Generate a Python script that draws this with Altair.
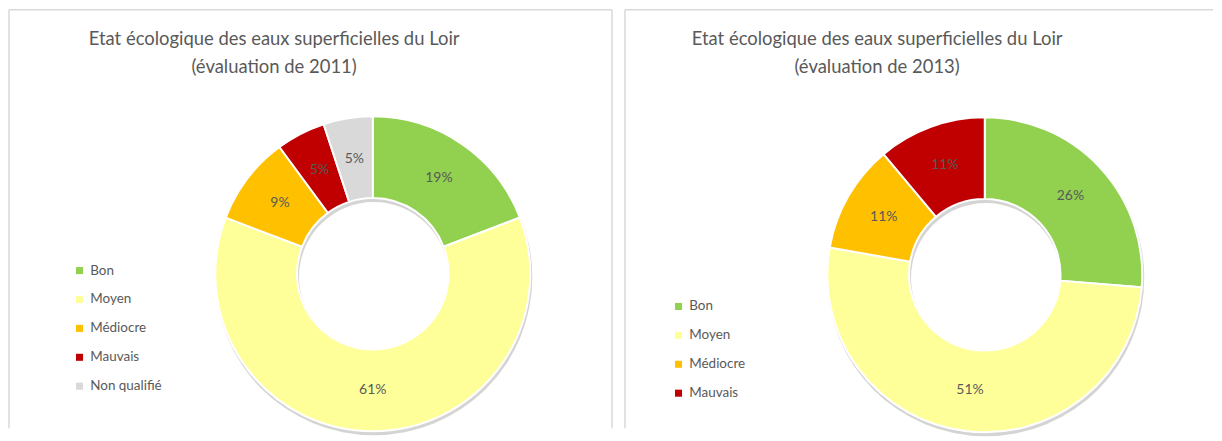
import altair as alt
import pandas as pd

FONT = "Lato"
TXT = "#595959"

categories_2011 = ["Bon", "Moyen", "Médiocre", "Mauvais", "Non qualifié"]
values_2011 = [19, 61, 9, 5, 5]
categories_2013 = ["Bon", "Moyen", "Médiocre", "Mauvais"]
values_2013 = [26, 51, 11, 11]
palette = {"Bon": "#92D050", "Moyen": "#FFFF99", "Médiocre": "#FFC000",
           "Mauvais": "#C00000", "Non qualifié": "#D9D9D9"}
title_2011 = ["Etat écologique des eaux superficielles du Loir", "(évaluation de 2011)"]
title_2013 = ["Etat écologique des eaux superficielles du Loir", "(évaluation de 2013)"]

H = 420
R_OUT = 158
R_IN = 76


def panel(cats, vals, title_lines, W, cx, cy, tx, legx, legy, right_border):
    df = pd.DataFrame({
        "cat": cats,
        "val": vals,
        "ord": list(range(len(cats))),
        "label": [f"{v}%" for v in vals],
    })
    one = pd.DataFrame({"a": [0]})
    color = alt.Color(
        "cat:N",
        scale=alt.Scale(domain=cats, range=[palette[c] for c in cats]),
        legend=alt.Legend(
            title=None, orient="none", legendX=legx, legendY=legy,
            symbolType="square", symbolSize=50, symbolStrokeWidth=0,
            labelFontSize=13.5, labelColor=TXT, labelFont=FONT,
            rowPadding=14, labelOffset=4, padding=0,
        ),
    )
    shadow = alt.Chart(one).mark_arc(
        theta=0, theta2=6.2832, radius=R_OUT + 1, radius2=R_IN - 1,
        color="#b8b8b8", opacity=0.6,
    ).encode(x=alt.value(cx + 1), y=alt.value(cy + 3))
    slices = alt.Chart(df).mark_arc(
        radius=R_OUT, radius2=R_IN, stroke="white", strokeWidth=2,
    ).encode(
        theta=alt.Theta("val:Q", stack=True),
        color=color,
        order=alt.Order("ord:Q"),
        x=alt.value(cx), y=alt.value(cy),
    )
    labels = alt.Chart(df).mark_text(
        radius=(R_OUT + R_IN) / 2, fontSize=14, color=TXT, font=FONT,
    ).encode(
        theta=alt.Theta("val:Q", stack=True),
        detail="cat:N",
        order=alt.Order("ord:Q"),
        text="label:N",
        x=alt.value(cx), y=alt.value(cy),
    )
    t1 = alt.Chart(one).mark_text(
        text=title_lines[0], fontSize=18.5, color=TXT, font=FONT, align="center", baseline="middle",
    ).encode(x=alt.value(tx), y=alt.value(29))
    t2 = alt.Chart(one).mark_text(
        text=title_lines[1], fontSize=18.5, color=TXT, font=FONT, align="center", baseline="middle",
    ).encode(x=alt.value(tx), y=alt.value(58))
    border_col = "#d9d9d9"
    left = alt.Chart(one).mark_rule(color=border_col, strokeWidth=1.5).encode(
        x=alt.value(0), y=alt.value(0), y2=alt.value(H))
    top = alt.Chart(one).mark_rule(color=border_col, strokeWidth=1.5).encode(
        x=alt.value(0), x2=alt.value(W), y=alt.value(0))
    layers = [left, top]
    if right_border:
        layers.append(alt.Chart(one).mark_rule(color=border_col, strokeWidth=1.5).encode(
            x=alt.value(W), y=alt.value(0), y2=alt.value(H)))
    layers += [shadow, slices, labels, t1, t2]
    return alt.layer(*layers).properties(width=W, height=H)


p1 = panel(categories_2011, values_2011, title_2011, 605, 365, 265, 266, 64, 255, True)
p2 = panel(categories_2013, values_2013, title_2013, 590, 361, 266, 253, 47, 291, False)

chart = alt.hconcat(p1, p2, spacing=11).resolve_scale(color="independent").properties(
    padding=0
).configure_view(stroke=None)

chart.save("out.html", embed_options={"renderer": "svg", "actions": False})
